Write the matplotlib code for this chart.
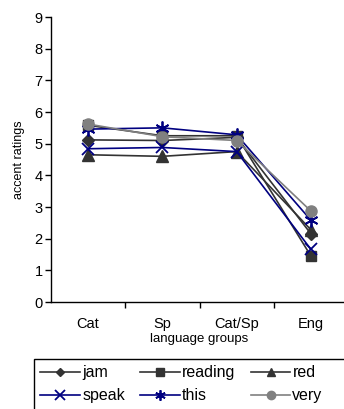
import matplotlib
matplotlib.use("Agg")
import matplotlib.pyplot as plt
from matplotlib.patches import Rectangle

plt.rcParams['font.family'] = ['Liberation Sans', 'DejaVu Sans']

groups = ["Cat", "Sp", "Cat/Sp", "Eng"]
y_ticks = [0, 1, 2, 3, 4, 5, 6, 7, 8, 9]

jam = [5.12, 5.10, 5.20, 2.15]
reading = [5.58, 5.25, 5.25, 1.45]
red = [4.65, 4.60, 4.75, 2.28]
speak = [4.84, 4.88, 4.75, 1.66]
this = [5.46, 5.50, 5.28, 2.58]
very = [5.62, 5.22, 5.10, 2.87]

dark = "#333333"
navy = "#000080"
grey = "#808080"

series = [
    ("jam", jam, dict(color=dark, marker="D", ms=6)),
    ("reading", reading, dict(color=dark, marker="s", ms=7)),
    ("red", red, dict(color=dark, marker="^", ms=8)),
    ("speak", speak, dict(color=navy, marker="x", ms=9, mew=1.3)),
    ("this", this, dict(color=navy, marker=(6, 2, 0), ms=10, mew=1.3)),
    ("very", very, dict(color=grey, marker="o", ms=8)),
]

W, H = 344, 409
fig = plt.figure(figsize=(W / 100, H / 100), dpi=100)
ax = fig.add_axes([0.148, 0.2616, 0.864, 0.6968])

x = list(range(len(groups)))
handles = {}
for name, vals, style in series:
    h, = ax.plot(x, vals, lw=1.2, label=name, **style)
    handles[name] = h

ax.set_xlim(-0.5, len(groups) - 0.5)
ax.set_ylim(0, 9)
ax.set_yticks(y_ticks)
ax.set_xticks(x)
ax.set_xticklabels(groups)
ax.set_xticks([0.5, 1.5, 2.5], minor=True)
ax.tick_params(axis="x", which="major", length=0, labelsize=10.5, pad=11)
ax.tick_params(axis="x", which="minor", length=4, width=1, direction="out")
ax.tick_params(axis="y", length=4, width=1, direction="out", labelsize=10.5, pad=2)
for s in ("top", "right"):
    ax.spines[s].set_visible(False)
for s in ("left", "bottom"):
    ax.spines[s].set_linewidth(1)
ax.set_xlabel("language groups", fontsize=9.5, labelpad=1)
ax.set_ylabel("accent ratings", fontsize=9, labelpad=7)

# legend box runs past the right and bottom edges of the figure
fig.patches.append(Rectangle((34 / W, -0.05), 1.1, 1 - 359 / H + 0.05,
                             transform=fig.transFigure, fill=False,
                             edgecolor="black", linewidth=1))

order = ["jam", "speak", "reading", "this", "red", "very"]
fig.legend([handles[n] for n in order], order, ncol=3,
           loc="upper left", bbox_to_anchor=(34 / W, 1 - 359 / H),
           borderaxespad=0, fontsize=11.5, frameon=False,
           handlelength=2.5, handletextpad=0.12,
           columnspacing=0.95, borderpad=0.4, labelspacing=0.5,
           markerscale=0.75)

fig.savefig("out.png", dpi=100)
